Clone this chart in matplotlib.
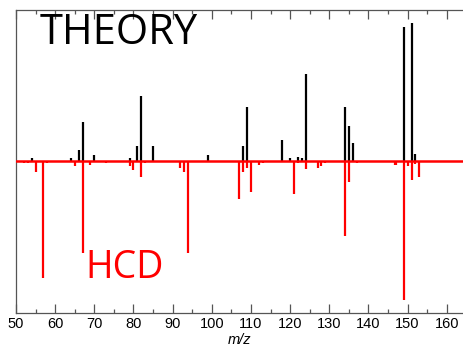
import matplotlib
matplotlib.use("Agg")
import matplotlib.pyplot as plt

# Theoretical spectrum (positive, black)
theory_mz = [54, 64, 66, 67, 70, 79, 81, 82, 85, 99, 108, 109, 118, 120, 122, 123, 124,
             134, 135, 136, 149, 151, 152]
theory_int = [0.02, 0.02, 0.076, 0.26, 0.046, 0.02, 0.10, 0.43, 0.10, 0.046, 0.105, 0.36,
              0.145, 0.02, 0.033, 0.02, 0.575, 0.36, 0.235, 0.12, 0.886, 0.915, 0.048]

# HCD spectrum (negative, red)
hcd_mz = [52, 53, 55, 57, 58, 65, 67, 69, 73, 79, 80, 82, 83, 92, 93, 94, 107, 108, 109,
          110, 112, 113, 121, 122, 124, 127, 128, 129, 134, 135, 137, 146.8, 147, 149, 150,
          151, 152, 153]
hcd_int = [0.01, 0.01, 0.072, 0.77, 0.01, 0.03, 0.605, 0.02, 0.01, 0.033, 0.055, 0.10, 0.01,
           0.04, 0.068, 0.605, 0.248, 0.068, 0.045, 0.204, 0.022, 0.01, 0.213, 0.01, 0.05,
           0.045, 0.027, 0.01, 0.495, 0.138, 0.01, 0.02, 0.02, 0.913, 0.027, 0.12, 0.018, 0.1]

xticks = [50, 60, 70, 80, 90, 100, 110, 120, 130, 140, 150, 160]

fig = plt.figure(figsize=(4.64, 3.47), dpi=100)
ax = fig.add_axes([16/464, 1-313/347, 1-16/464, (313-10)/347])

ax.vlines(theory_mz, 0, theory_int, color='black', lw=1.6, zorder=2)
ax.vlines(hcd_mz, 0, [-v for v in hcd_int], color='red', lw=1.6, zorder=2)
ax.axhline(0, color='red', lw=1.8, zorder=3)

ax.set_xlim(50, 164.4)
ax.set_ylim(-1, 1)
ax.set_xticks(xticks)
ax.set_xticks(list(range(55, 165, 10)), minor=True)
ax.set_yticks([])
ax.tick_params(axis='x', which='both', direction='in', top=True, bottom=True,
               color='#555555', width=0.9, labelsize=10.5, pad=3)
ax.tick_params(axis='x', which='major', length=6.2)
ax.tick_params(axis='x', which='minor', length=3.2)
for lab in ax.get_xticklabels():
    lab.set_fontfamily('Liberation Sans')
for s in ['left', 'top', 'bottom']:
    ax.spines[s].set_color('#555555')
    ax.spines[s].set_linewidth(0.9)
ax.spines['right'].set_visible(False)

ax.set_xlabel('m/z', fontstyle='italic', fontsize=10.5, family='Liberation Sans', labelpad=1)

ax.text(56.0, 0.99, 'THEORY', color='black', fontsize=30, family='Open Sans',
        ha='left', va='top')
ax.text(67.6, -0.768, 'HCD', color='red', fontsize=27, family='Open Sans',
        ha='left', va='baseline')

fig.savefig('out.png', dpi=100)
